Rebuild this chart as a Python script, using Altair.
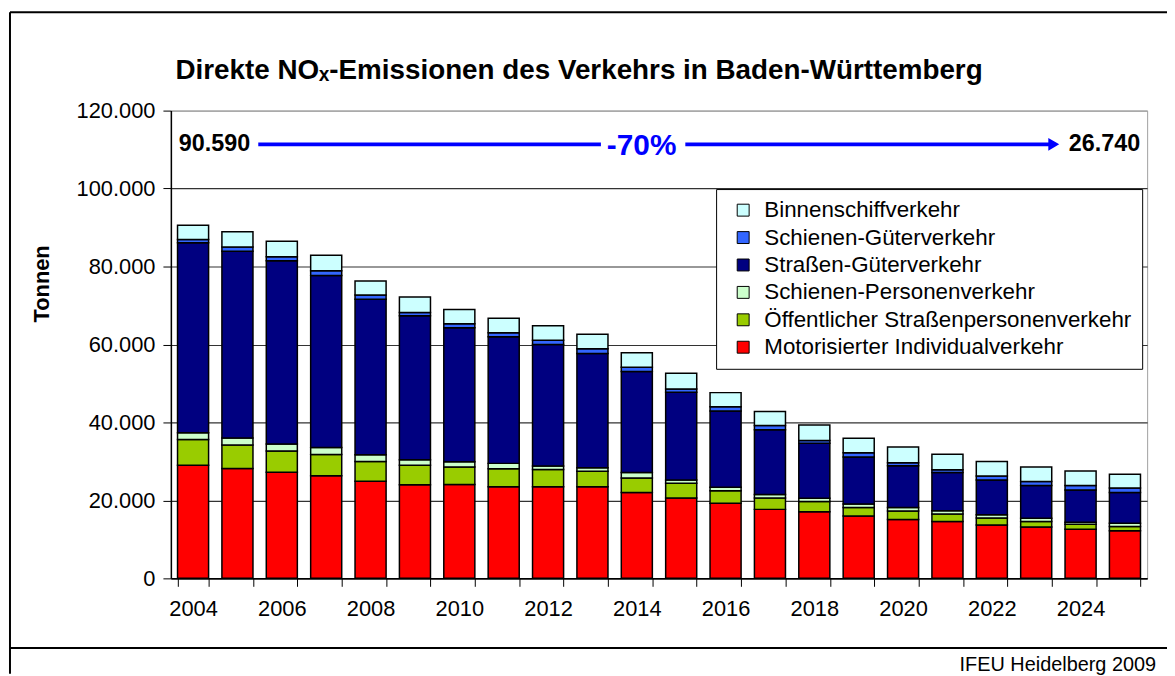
import altair as alt
import pandas as pd

# ---------------- data (tonnes NOx) ----------------
years = [str(y) for y in range(2004, 2026)]

# legend order (top -> bottom)
categories = [
    "Binnenschiffverkehr",
    "Schienen-Güterverkehr",
    "Straßen-Güterverkehr",
    "Schienen-Personenverkehr",
    "Öffentlicher Straßenpersonenverkehr",
    "Motorisierter Individualverkehr",
]
colors = ["#CCFFFF", "#3366FF", "#000080", "#CCFFCC", "#99CC00", "#FF0000"]

miv = [29000, 28200, 27200, 26300, 24900, 24000, 24100, 23500, 23500, 23500, 22000,
       20600, 19300, 17700, 17100, 16000, 15100, 14600, 13700, 13200, 12600, 12200]
oespv = [6650, 6000, 5500, 5500, 5100, 5000, 4500, 4600, 4400, 4000, 3750,
         3800, 3200, 2900, 2600, 2200, 2200, 1900, 1800, 1400, 1300, 1100]
spv = [1700, 1800, 1800, 1800, 1700, 1400, 1300, 1400, 900, 900, 1400,
       850, 850, 900, 850, 850, 850, 850, 850, 850, 500, 850]
sgv = [48720, 47900, 47000, 44100, 39900, 37000, 34400, 32500, 31200, 29300, 25900,
       22500, 19600, 16600, 14100, 12100, 10750, 9800, 8900, 8400, 8300, 7850]
schgv = [850, 1100, 1000, 1200, 1100, 800, 1000, 1000, 1100, 1200, 1100,
         850, 1100, 1100, 700, 1100, 770, 700, 1000, 1000, 1100, 1200]
binnen = [3670, 3900, 4000, 4000, 3600, 4000, 3700, 3700, 3700, 3700, 3700,
          4000, 3600, 3600, 4000, 3700, 4000, 4000, 3750, 3700, 3750, 3540]

series = {
    "Motorisierter Individualverkehr": miv,
    "Öffentlicher Straßenpersonenverkehr": oespv,
    "Schienen-Personenverkehr": spv,
    "Straßen-Güterverkehr": sgv,
    "Schienen-Güterverkehr": schgv,
    "Binnenschiffverkehr": binnen,
}

title_text = "Direkte NOₓ-Emissionen des Verkehrs in Baden-Württemberg"
start_label = "90.590"
end_label = "26.740"
change_label = "-70%"
footer_text = "IFEU Heidelberg 2009"

rows = []
for order_idx, (name, vals) in enumerate(series.items()):
    for y, v in zip(years, vals):
        rows.append({"Jahr": y, "Kategorie": name, "Wert": v, "Ord": order_idx})
df = pd.DataFrame(rows)

FONT = "Liberation Sans"
one = pd.DataFrame({"a": [0]})

bars = alt.Chart(df).mark_bar(stroke="black", strokeWidth=1.5).encode(
    x=alt.X(
        "Jahr:O",
        sort=years,
        scale=alt.Scale(paddingInner=0.3, paddingOuter=0.15),
        axis=alt.Axis(
            title=None,
            labelAngle=0,
            tickBand="extent",
            labelExpr="toNumber(datum.value) % 2 == 0 ? datum.label : ''",
            labelFont=FONT,
            labelFontSize=22,
            labelColor="black",
            labelPadding=12,
            tickSize=8,
            tickColor="black",
            domainColor="black",
            domainWidth=1.5,
            grid=False,
        ),
    ),
    y=alt.Y(
        "Wert:Q",
        stack="zero",
        scale=alt.Scale(domain=[0, 120000], nice=False),
        axis=alt.Axis(
            title="Tonnen",
            values=list(range(0, 120001, 20000)),
            labelExpr="replace(format(datum.value, ','), ',', '.')",
            labelFont=FONT,
            labelFontSize=22,
            labelColor="black",
            labelPadding=8,
            tickSize=8,
            tickColor="black",
            domainColor="black",
            domainWidth=1.5,
            gridColor={"condition": {"test": "datum.value >= 120000", "value": "#a0a0a0"},
                       "value": "#333333"},
            gridWidth=1.2,
            titleFont=FONT,
            titleFontSize=22,
            titleFontWeight="bold",
            titleColor="black",
            titleAngle=270,
            titleX=-130,
            titleY=174,
            titleAlign="center",
            titleBaseline="middle",
        ),
    ),
    color=alt.Color(
        "Kategorie:N",
        scale=alt.Scale(domain=categories, range=colors),
        legend=alt.Legend(
            title=None,
            orient="none",
            legendX=549,
            legendY=79,
            strokeColor="black",
            fillColor="white",
            padding=10,
            rowPadding=4.6,
            symbolType="square",
            symbolSize=144,
            symbolStrokeColor="black",
            symbolStrokeWidth=1,
            symbolOffset=6,
            labelOffset=10,
            labelFont=FONT,
            labelFontSize=22.5,
            labelColor="black",
            labelLimit=0,
        ),
    ),
    order=alt.Order("Ord:Q", sort="ascending"),
)

title = alt.Chart(one).mark_text(
    text=title_text, font=FONT, fontSize=28, fontWeight="bold", align="center",
    baseline="alphabetic", color="black"
).encode(x=alt.value(411), y=alt.value(-32))

start_t = alt.Chart(one).mark_text(
    text=start_label, font=FONT, fontSize=23.5, fontWeight="bold", align="left",
    baseline="middle", color="black"
).encode(x=alt.value(8), y=alt.value(34))

end_t = alt.Chart(one).mark_text(
    text=end_label, font=FONT, fontSize=23.5, fontWeight="bold", align="right",
    baseline="middle", color="black"
).encode(x=alt.value(976), y=alt.value(34))

change_t = alt.Chart(one).mark_text(
    text=change_label, font=FONT, fontSize=30, fontWeight="bold", align="center",
    baseline="middle", color="#0000FF"
).encode(x=alt.value(474), y=alt.value(36))

arrow1 = alt.Chart(one).mark_rule(color="#0000FF", strokeWidth=4).encode(
    x=alt.value(88), x2=alt.value(433), y=alt.value(34))
arrow2 = alt.Chart(one).mark_rule(color="#0000FF", strokeWidth=4).encode(
    x=alt.value(518), x2=alt.value(886), y=alt.value(34))
head = alt.Chart(one).mark_point(
    shape="triangle-right", filled=True, color="#0000FF", size=160, opacity=1
).encode(x=alt.value(889), y=alt.value(34))

frame_top = alt.Chart(one).mark_rule(color="black", strokeWidth=2).encode(
    x=alt.value(-162), x2=alt.value(1010), y=alt.value(-99))
frame_left = alt.Chart(one).mark_rule(color="black", strokeWidth=2).encode(
    x=alt.value(-162), y=alt.value(-99), y2=alt.value(567))
frame_sep = alt.Chart(one).mark_rule(color="black", strokeWidth=2).encode(
    x=alt.value(-162), x2=alt.value(1010), y=alt.value(541))

footer = alt.Chart(one).mark_text(
    text=footer_text, font=FONT, fontSize=20, align="right", baseline="alphabetic",
    color="black"
).encode(x=alt.value(992), y=alt.value(564))

chart = alt.layer(
    bars, title, arrow1, arrow2, head, start_t, end_t, change_t,
    frame_top, frame_left, frame_sep, footer
).properties(
    width=983,
    height=471,
    padding={"left": 164, "top": 101, "right": 20, "bottom": 96},
    autosize=alt.AutoSizeParams(type="none"),
    background="white",
).configure_view(stroke="#a0a0a0", strokeWidth=1)

chart.save("out.html", embed_options={"renderer": "svg", "actions": False})
